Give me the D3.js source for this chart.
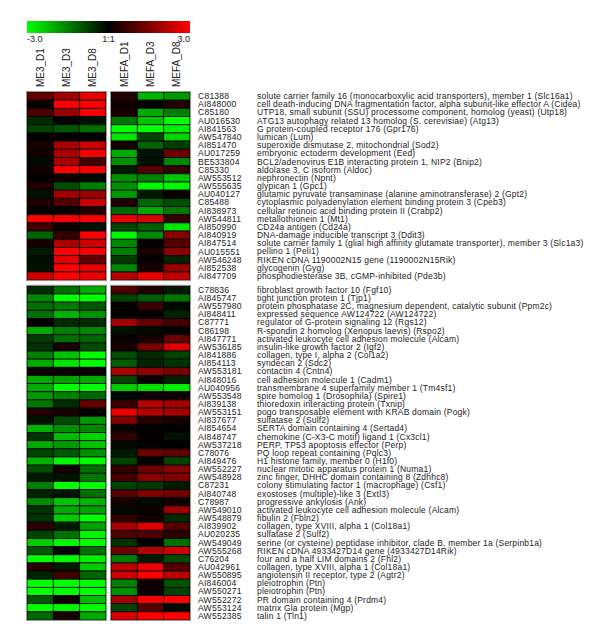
<!DOCTYPE html>
<html>
<head>
<meta charset="utf-8">
<script src="https://cdn.jsdelivr.net/npm/d3@7"></script>
<style>
  body { margin: 0; background: #fff; }
  text { font-family: "Liberation Sans", Arial, sans-serif; fill: #222; }
</style>
</head>
<body>
<div id="chart"></div>
<script>
const width = 600, height = 643;

const groups = ["ME3", "MEFA"];
const days = ["D1", "D3", "D8"];
const legendTicks = [["-3.0", -3], ["1:1", 0], ["3.0", 3]];

// top cluster
const accTop = ["C81388","AI848000","C85180","AU016530","AI841563","AW547840","AI851470","AU017259",
  "BE533804","C85330","AW553512","AW555635","AU040127","C85488","AI838973","AW544811","AI850990",
  "AI840919","AI847514","AU015551","AW546248","AI852538","AI847709"];
const geneTop = [
  "solute carrier family 16 (monocarboxylic acid transporters), member 1 (Slc16a1)",
  "cell death-inducing DNA fragmentation factor, alpha subunit-like effector A (Cidea)",
  "UTP18, small subunit (SSU) processome component, homolog (yeast) (Utp18)",
  "ATG13 autophagy related 13 homolog (S. cerevisiae) (Atg13)",
  "G protein-coupled receptor 176 (Gpr176)",
  "lumican (Lum)",
  "superoxide dismutase 2, mitochondrial (Sod2)",
  "embryonic ectoderm development (Eed)",
  "BCL2/adenovirus E1B interacting protein 1, NIP2 (Bnip2)",
  "aldolase 3, C isoform (Aldoc)",
  "nephronectin (Npnt)",
  "glypican 1 (Gpc1)",
  "glutamic pyruvate transaminase (alanine aminotransferase) 2 (Gpt2)",
  "cytoplasmic polyadenylation element binding protein 3 (Cpeb3)",
  "cellular retinoic acid binding protein II (Crabp2)",
  "metallothionein 1 (Mt1)",
  "CD24a antigen (Cd24a)",
  "DNA-damage inducible transcript 3 (Ddit3)",
  "solute carrier family 1 (glial high affinity glutamate transporter), member 3 (Slc1a3)",
  "pellino 1 (Peli1)",
  "RIKEN cDNA 1190002N15 gene (1190002N15Rik)",
  "glycogenin (Gyg)",
  "phosphodiesterase 3B, cGMP-inhibited (Pde3b)"];
// ME3 D1, D3, D8, MEFA D1, D3, D8
const valTop = [
  [1.2, 1.9, 2.7, 0.4, -2.1, -1.8],
  [0.1, 3.0, 2.9, 0.2, 0.05, 0.4],
  [0.9, 1.8, 2.9, 0.3, -2.0, -1.5],
  [-0.5, 0.05, -0.2, -1.4, -2.3, -3.0],
  [-0.8, -1.0, -1.3, -3.0, -3.0, -2.8],
  [0.05, 0.05, 0.0, -2.7, -0.8, -2.5],
  [0.3, 2.0, 2.4, 0.3, -1.2, -0.7],
  [0.2, 2.0, 2.9, -2.0, -0.2, 1.3],
  [-0.1, 2.0, 0.8, -1.7, -0.2, -1.6],
  [0.2, 3.0, 2.9, -0.3, 1.0, 0.6],
  [0.05, 0.2, -0.1, -1.7, -1.5, -2.3],
  [0.4, -0.9, -1.5, -1.7, -2.9, -2.9],
  [-0.2, 1.9, 1.8, -1.8, -0.3, 0.1],
  [0.4, 1.0, 2.4, 0.4, -1.2, -0.9],
  [0.05, 0.05, 0.4, -1.2, -2.0, -1.4],
  [3.0, 2.9, 2.9, 2.8, 2.5, 0.6],
  [0.8, 0.2, -0.2, -0.8, -1.1, -2.7],
  [-1.2, 0.6, 3.0, -2.9, -1.6, 1.6],
  [0.3, 2.0, 2.4, -1.6, 0.05, 1.0],
  [-0.3, 3.0, 2.9, -1.5, 0.3, 1.6],
  [-0.15, 2.7, 1.1, -0.7, 0.05, -0.4],
  [-0.2, 3.0, 2.7, -1.6, 0.3, 1.8],
  [2.4, 3.0, 2.8, 2.1, 2.8, 2.3]];

// bottom cluster
const accBot = ["C78836","AI845747","AW557980","AI848411","C87771","C86198","AI847771","AW536185",
  "AI841886","AI854113","AW553181","AI848016","AU040956","AW553548","AI839138","AW553151","AI837677",
  "AI854654","AI848747","AW537218","C78076","AI849476","AW552227","AW548928","C87231","AI840748",
  "C78987","AW549010","AW548879","AI839902","AU020235","AW549049","AW555268","C76204","AU042961",
  "AW550895","AI846004","AW550271","AW552272","AW553124","AW552385"];
const geneBot = [
  "fibroblast growth factor 10 (Fgf10)",
  "tight junction protein 1 (Tjp1)",
  "protein phosphatase 2C, magnesium dependent, catalytic subunit (Ppm2c)",
  "expressed sequence AW124722 (AW124722)",
  "regulator of G-protein signaling 12 (Rgs12)",
  "R-spondin 2 homolog (Xenopus laevis) (Rspo2)",
  "activated leukocyte cell adhesion molecule (Alcam)",
  "insulin-like growth factor 2 (Igf2)",
  "collagen, type I, alpha 2 (Col1a2)",
  "syndecan 2 (Sdc2)",
  "contactin 4 (Cntn4)",
  "cell adhesion molecule 1 (Cadm1)",
  "transmembrane 4 superfamily member 1 (Tm4sf1)",
  "spire homolog 1 (Drosophila) (Spire1)",
  "thioredoxin interacting protein (Txnip)",
  "pogo transposable element with KRAB domain (Pogk)",
  "sulfatase 2 (Sulf2)",
  "SERTA domain containing 4 (Sertad4)",
  "chemokine (C-X3-C motif) ligand 1 (Cx3cl1)",
  "PERP, TP53 apoptosis effector (Perp)",
  "PQ loop repeat containing (Pqlc3)",
  "H1 histone family, member 0 (H1f0)",
  "nuclear mitotic apparatus protein 1 (Numa1)",
  "zinc finger, DHHC domain containing 8 (Zdhhc8)",
  "colony stimulating factor 1 (macrophage) (Csf1)",
  "exostoses (multiple)-like 3 (Extl3)",
  "progressive ankylosis (Ank)",
  "activated leukocyte cell adhesion molecule (Alcam)",
  "fibulin 2 (Fbln2)",
  "collagen, type XVIII, alpha 1 (Col18a1)",
  "sulfatase 2 (Sulf2)",
  "serine (or cysteine) peptidase inhibitor, clade B, member 1a (Serpinb1a)",
  "RIKEN cDNA 4933427D14 gene (4933427D14Rik)",
  "four and a half LIM domains 2 (Fhl2)",
  "collagen, type XVIII, alpha 1 (Col18a1)",
  "angiotensin II receptor, type 2 (Agtr2)",
  "pleiotrophin (Ptn)",
  "pleiotrophin (Ptn)",
  "PR domain containing 4 (Prdm4)",
  "matrix Gla protein (Mgp)",
  "talin 1 (Tln1)"];
const valBot = [
  [-0.5, -1.3, -2.0, 1.0, 0.4, -0.3],
  [-1.6, -3.0, -3.0, -0.8, -1.1, -1.4],
  [-1.3, -1.4, -1.0, 0.05, 0.7, -0.1],
  [-1.3, -2.1, -1.7, 0.05, 0.0, -0.4],
  [0.05, -0.5, -0.5, 1.9, 1.2, 0.8],
  [-2.0, -1.5, -1.6, -0.2, -0.1, 0.05],
  [-0.7, -1.3, -1.2, 0.1, 0.3, 1.2],
  [-0.6, 0.3, -0.9, 0.3, 1.4, 2.6],
  [-1.5, -2.3, -3.0, -0.9, -0.5, -0.8],
  [-2.0, -2.7, -3.0, -1.1, -0.4, -0.6],
  [0.1, 0.1, 0.05, 2.0, 1.7, 1.4],
  [-2.0, -1.9, -2.0, -0.8, 0.1, -0.4],
  [-2.0, -3.0, -3.0, -2.4, -2.6, -2.8],
  [-1.8, -1.5, -1.2, -0.1, 0.2, 0.2],
  [-1.4, -0.5, 1.2, 0.7, 2.1, 1.9],
  [0.4, 0.3, 0.1, 2.8, 2.1, 1.9],
  [-0.2, -0.9, -1.8, 1.5, 0.4, 0.3],
  [-2.1, -1.7, -1.6, 0.1, 0.0, 0.0],
  [-0.6, -2.2, -2.5, 0.6, 0.05, -0.2],
  [-2.0, -1.8, -2.3, -0.1, 0.0, 0.0],
  [-0.8, -1.0, -1.7, -0.3, 1.2, 1.1],
  [-2.1, -2.9, -3.0, -0.8, 0.05, -0.8],
  [-0.9, 0.2, -1.3, 0.6, 1.3, 1.6],
  [-0.3, -0.2, -1.4, 0.8, 1.6, 1.5],
  [-1.5, -3.0, -3.0, -0.8, -0.7, -0.3],
  [-0.4, -0.2, -1.3, 1.0, 1.5, 1.3],
  [-1.6, -2.3, -2.1, 0.3, -0.1, 0.2],
  [-0.6, -2.0, -1.9, -0.1, 0.15, 1.8],
  [-0.6, -2.4, -3.0, 0.6, 0.2, -0.5],
  [0.5, -0.3, -1.9, 2.0, 2.6, 1.0],
  [-0.8, -1.3, -2.9, 0.9, 0.9, 0.5],
  [-2.4, -2.9, -3.0, -0.6, 0.0, -1.3],
  [-1.0, 0.0, -1.3, 1.3, 2.1, 2.4],
  [-3.0, -2.9, -2.8, -1.5, -0.3, -0.9],
  [0.5, -0.3, -2.4, 2.2, 2.8, 1.0],
  [-0.4, 0.8, -1.2, 2.4, 3.0, 2.2],
  [-3.0, -3.0, -3.0, -1.5, 0.15, -1.0],
  [-3.0, -3.0, -3.0, -1.7, 0.15, -0.8],
  [-1.0, 0.2, -2.2, 1.9, 2.9, 3.0],
  [-3.0, -2.9, -3.0, -0.8, 1.0, -0.1],
  [-1.2, 0.3, -2.0, 2.6, 3.0, 3.0]];

const svg = d3.select("#chart").append("svg")
  .attr("width", width)
  .attr("height", height);

const color = d3.scaleLinear()
  .domain([-3, 0, 3])
  .range(["#00ff00", "#000000", "#ff0000"])
  .clamp(true);

// columns: two groups of three days
const xGroup = d3.scaleBand().domain(groups).range([27, 190]).paddingInner(5 / 84);
const xDay = d3.scaleBand().domain(days).range([0, xGroup.bandwidth()]);
const colX = i => xGroup(groups[Math.floor(i / 3)]) + xDay(days[i % 3]);

// legend
const legX = d3.scaleLinear().domain([-3, 3]).range([27, 190]);
const grad = svg.append("defs").append("linearGradient").attr("id", "leg");
d3.range(-3, 3.01, 0.5).forEach(v => {
  grad.append("stop").attr("offset", (v + 3) / 6).attr("stop-color", color(v));
});
svg.append("rect")
  .attr("x", legX(-3)).attr("y", 21)
  .attr("width", legX(3) - legX(-3)).attr("height", 12)
  .attr("fill", "url(#leg)");
svg.selectAll(".legt").data(legendTicks).enter().append("text")
  .attr("x", d => legX(d[1]))
  .attr("y", 42)
  .attr("text-anchor", (d, i) => i === 0 ? "start" : i === 2 ? "end" : "middle")
  .style("font-size", "9px")
  .text(d => d[0]);

// column headers
const colLabels = [];
groups.forEach(g => days.forEach(d => colLabels.push(g + "_" + d)));
svg.selectAll(".colh").data(colLabels).enter().append("text")
  .attr("transform", (d, i) => `translate(${colX(i) + xDay.bandwidth() / 2 + 3.5}, 87) rotate(-90)`)
  .style("font-size", "10px")
  .text(d => d);

function block(acc, genes, vals, y0, rowH) {
  const y = d3.scaleBand().domain(d3.range(acc.length)).range([y0, y0 + rowH * acc.length]);
  const g = svg.append("g");

  vals.forEach((row, r) => {
    g.selectAll(null).data(row).enter().append("rect")
      .attr("x", (d, i) => colX(i))
      .attr("y", y(r))
      .attr("width", xDay.bandwidth())
      .attr("height", y.bandwidth())
      .attr("fill", d => color(d))
      .attr("stroke", "#000")
      .attr("stroke-width", 0.8);
  });

  groups.forEach(gr => {
    g.append("rect")
      .attr("x", xGroup(gr) - 0.5)
      .attr("y", y0 - 0.5)
      .attr("width", xGroup.bandwidth() + 1)
      .attr("height", rowH * acc.length + 1)
      .attr("fill", "none")
      .attr("stroke", "#9a9a9a")
      .attr("stroke-width", 1);
  });

  g.selectAll(".acc").data(acc).enter().append("text")
    .attr("x", 198)
    .attr("y", (d, i) => y(i) + y.bandwidth() / 2)
    .attr("dy", "0.35em")
    .style("font-size", "8.6px")
    .style("letter-spacing", "0.2px")
    .text(d => d);

  g.selectAll(".gene").data(genes).enter().append("text")
    .attr("x", 257)
    .attr("y", (d, i) => y(i) + y.bandwidth() / 2)
    .attr("dy", "0.35em")
    .style("font-size", "8.5px")
    .style("letter-spacing", "0.2px")
    .text(d => d);
}

block(accTop, geneTop, valTop, 92, 8.18);
block(accBot, geneBot, valBot, 285.8, 8.15);
</script>
</body>
</html>
